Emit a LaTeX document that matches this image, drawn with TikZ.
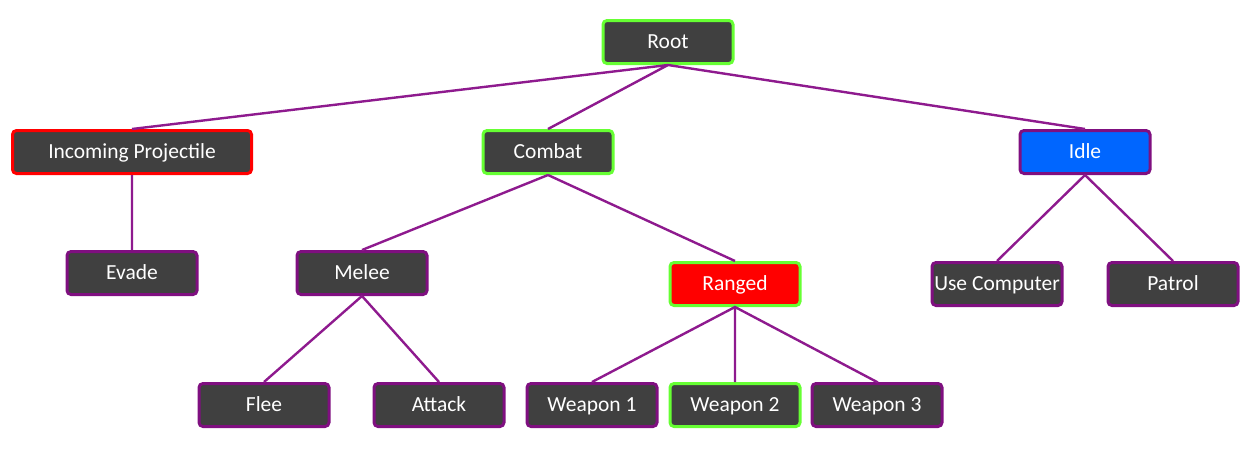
\documentclass[tikz,border=0pt]{standalone}
\usepackage{fontspec}
\setmainfont{Carlito}
\definecolor{boxfill}{HTML}{404040}
\definecolor{bpurple}{HTML}{7F0F80}
\definecolor{bgreen}{HTML}{66FF33}
\definecolor{bred}{HTML}{FF0000}
\definecolor{bblue}{HTML}{0066FF}
\definecolor{lpurple}{HTML}{8E1A8E}
\begin{document}
\begin{tikzpicture}[x=1pt,y=-1pt,
  treebox/.style={draw=bpurple, line width=3pt, fill=boxfill, rounded corners=4pt,
    minimum width=130pt, minimum height=43pt, inner sep=2pt, text=white,
    text height=16pt, text depth=2.2pt,
    font=\fontsize{21.5}{24}\selectfont},
  greenbox/.style={treebox, draw=bgreen},
  redbox/.style={treebox, draw=bred},
  link/.style={draw=lpurple, line width=2.4pt, shorten <=-1pt, shorten >=-1pt}]
\useasboundingbox (0,0) rectangle (1252,450);
\node[greenbox] (root) at (668,42) {Root};
\node[redbox, minimum width=239pt] (inc) at (132,152) {Incoming Projectile};
\node[greenbox] (combat) at (548,152) {Combat};
\node[treebox, fill=bblue] (idle) at (1085,152) {Idle};
\node[treebox] (evade) at (132,273) {Evade};
\node[treebox] (melee) at (362,273) {Melee};
\node[greenbox, fill=bred] (ranged) at (735,284) {Ranged};
\node[treebox, inner sep=0pt] (usec) at (997,284) {Use Computer};
\node[treebox] (patrol) at (1173,284) {Patrol};
\node[treebox] (flee) at (264,405) {Flee};
\node[treebox] (attack) at (439,405) {Attack};
\node[treebox] (w1) at (592,405) {Weapon 1};
\node[greenbox] (w2) at (735,405) {Weapon 2};
\node[treebox] (w3) at (877,405) {Weapon 3};
\path[link] (root.south) -- (inc.north)
  (root.south) -- (combat.north)
  (root.south) -- (idle.north)
  (inc.south) -- (evade.north)
  (combat.south) -- (melee.north)
  (combat.south) -- (ranged.north)
  (idle.south) -- (usec.north)
  (idle.south) -- (patrol.north)
  (melee.south) -- (flee.north)
  (melee.south) -- (attack.north)
  (ranged.south) -- (w1.north)
  (ranged.south) -- (w2.north)
  (ranged.south) -- (w3.north);
\end{tikzpicture}
\end{document}
